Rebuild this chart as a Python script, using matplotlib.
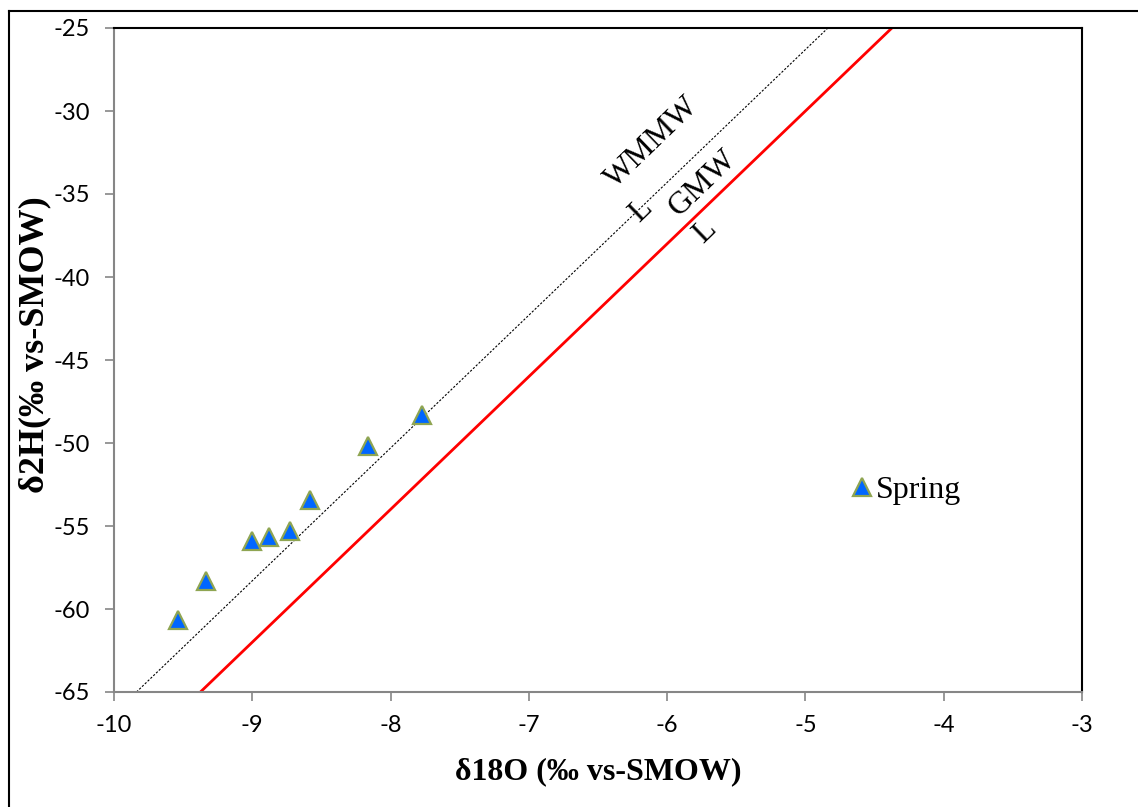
import matplotlib
matplotlib.use("Agg")
import matplotlib.pyplot as plt
import numpy as np
from matplotlib.lines import Line2D

# Data
spring_d18O = [-9.535, -9.335, -9.004, -8.879, -8.725, -8.583, -8.163, -7.773]
spring_d2H = [-60.69, -58.30, -55.90, -55.68, -55.28, -53.43, -50.18, -48.31]

gmwl_slope, gmwl_intercept = 8.0, 10.0
wmmwl_slope, wmmwl_intercept = 8.0, 13.7

x_ticks = [-10, -9, -8, -7, -6, -5, -4, -3]
y_ticks = [-65, -60, -55, -50, -45, -40, -35, -30, -25]

W, H = 1138, 807
fig = plt.figure(figsize=(W / 100, H / 100), dpi=100)

# outer frame (top and left visible)
fig.add_artist(Line2D([9 / W, 9 / W], [0, 1 - 11 / H], transform=fig.transFigure, color="black", lw=1.5))
fig.add_artist(Line2D([9 / W, 1], [1 - 11 / H, 1 - 11 / H], transform=fig.transFigure, color="black", lw=1.5))

left, right, top, bottom = 114, 1082, 28, 692
ax = fig.add_axes([left / W, (H - bottom) / H, (right - left) / W, (bottom - top) / H])
ax.set_xlim(-10, -3)
ax.set_ylim(-65, -25)

xs = np.array([-10.0, -3.0])
ax.plot(xs, wmmwl_slope * xs + wmmwl_intercept, color="black", lw=0.8, ls=(0, (2, 1.5)), zorder=2)
ax.plot(xs, gmwl_slope * xs + gmwl_intercept, color="#FF0000", lw=2.0, zorder=2)

ax.plot(spring_d18O, spring_d2H, ls="none", marker="^", markersize=13,
        markerfacecolor="#0066FF", markeredgecolor="#8FA552", markeredgewidth=1.6,
        label="Spring", zorder=3)

ax.set_xticks(x_ticks)
ax.set_yticks(y_ticks)
ax.set_xticklabels([str(v) for v in x_ticks])
ax.set_yticklabels([str(v) for v in y_ticks])

for s in ["left", "bottom"]:
    ax.spines[s].set_color("#868686")
    ax.spines[s].set_linewidth(1.5)
for s in ["top", "right"]:
    ax.spines[s].set_color("black")
    ax.spines[s].set_linewidth(1.5)

ax.tick_params(axis="both", direction="out", length=6.5, width=1.2, color="#868686",
               labelsize=17, labelcolor="black")
ax.tick_params(axis="y", pad=11)
ax.tick_params(axis="x", pad=10)
for lab in ax.get_xticklabels() + ax.get_yticklabels():
    lab.set_fontfamily("Lato")

serif = "Liberation Serif"
ax.set_xlabel("δ18O (‰ vs-SMOW)", fontsize=23, fontweight="bold", family=serif)
ax.xaxis.set_label_coords(0.5, -(772 - bottom) / (bottom - top), transform=ax.transAxes)
ax.xaxis.label.set_verticalalignment("center")
ax.set_ylabel("δ2H(‰ vs-SMOW)", fontsize=26, fontweight="bold", family=serif)
ax.yaxis.set_label_coords(-(left - 35) / (right - left), (bottom - 345) / (bottom - top), transform=ax.transAxes)
ax.yaxis.label.set_verticalalignment("center")


def px2data(px, py):
    return -10 + (px - left) / ((right - left) / 7), -25 - (py - top) / ((bottom - top) / 40)


ang = 44
for txt, (px, py) in [("WMMW", (652, 143)), ("L", (641, 211)), ("GMW", (703, 183)), ("L", (705, 232))]:
    x, y = px2data(px, py)
    ax.text(x, y, txt, rotation=ang, rotation_mode="anchor", ha="center", va="center",
            fontsize=23, family=serif, color="black", zorder=4)

leg = ax.legend(loc="center left", bbox_to_anchor=((852 - left) / (right - left), (bottom - 490) / (bottom - top)),
                frameon=False, handlelength=0.6, handletextpad=0.15, borderpad=0, borderaxespad=0,
                prop={"family": serif, "size": 23})

fig.savefig("out.png", dpi=100)
